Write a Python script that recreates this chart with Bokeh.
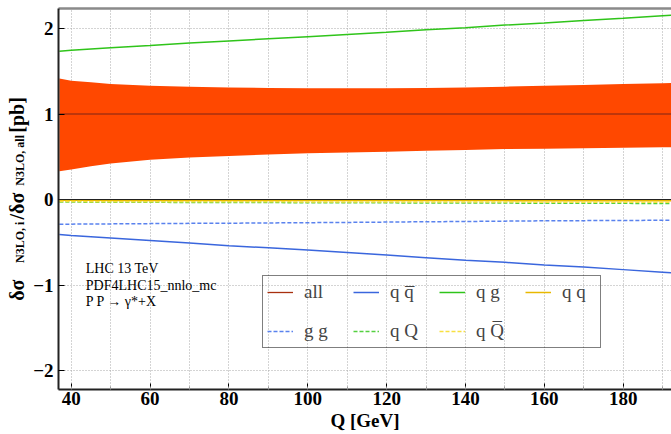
from bokeh.plotting import figure
from bokeh.models import (Range1d, SingleIntervalTicker, FixedTicker, LinearAxis, Legend,
                          LegendItem, Label, Span)
from bokeh.embed import file_html
from bokeh.resources import INLINE

# ---------------- data ----------------
Q = [37, 40, 45, 50, 60, 70, 80, 90, 100, 110, 120, 130, 140, 150, 160, 170, 180, 190, 195]
all_upper = [1.415, 1.39, 1.37, 1.35, 1.33, 1.32, 1.31, 1.305, 1.30, 1.30, 1.30,
             1.305, 1.31, 1.32, 1.33, 1.34, 1.35, 1.36, 1.365]
all_lower = [0.33, 0.35, 0.39, 0.42, 0.465, 0.49, 0.51, 0.525, 0.54, 0.55, 0.56,
             0.57, 0.58, 0.59, 0.595, 0.60, 0.605, 0.61, 0.61]
all_central = [1.0, 1.0, 1.0, 1.0, 1.0, 1.0, 1.0, 1.0, 1.0, 1.0, 1.0,
               1.0, 1.0, 1.0, 1.0, 1.0, 1.0, 1.0, 1.0]
qqbar = [-0.41, -0.42, -0.435, -0.45, -0.48, -0.51, -0.54, -0.565, -0.59, -0.62, -0.65,
         -0.68, -0.71, -0.735, -0.765, -0.79, -0.82, -0.85, -0.865]
qg = [1.735, 1.745, 1.76, 1.775, 1.80, 1.83, 1.855, 1.88, 1.905, 1.93, 1.955,
      1.985, 2.01, 2.04, 2.065, 2.095, 2.12, 2.15, 2.165]
qq = [-0.010, -0.010, -0.010, -0.011, -0.011, -0.011, -0.012, -0.012, -0.012, -0.012, -0.013,
      -0.013, -0.013, -0.013, -0.014, -0.014, -0.014, -0.014, -0.014]
gg = [-0.289, -0.288, -0.286, -0.285, -0.282, -0.279, -0.277, -0.274, -0.271, -0.268, -0.264,
      -0.260, -0.257, -0.253, -0.249, -0.247, -0.245, -0.243, -0.242]
qQ = [-0.030, -0.030, -0.031, -0.032, -0.033, -0.034, -0.035, -0.036, -0.037, -0.038, -0.039,
      -0.040, -0.041, -0.042, -0.043, -0.044, -0.045, -0.046, -0.047]
qQbar = [-0.024, -0.024, -0.025, -0.025, -0.026, -0.026, -0.027, -0.027, -0.028, -0.028, -0.029,
         -0.029, -0.030, -0.030, -0.031, -0.031, -0.032, -0.032, -0.033]

legend_labels = ["all", "q q\u0305", "q g", "q q", "g g", "q Q", "q Q\u0305"]
info_lines = ["LHC 13 TeV", "PDF4LHC15_nnlo_mc", "P P \u2192 \u03b3*+X"]
x_ticks_interval = 20
y_ticks_interval = 1
x_title = "Q [GeV]"
EM = "\u2003"
y_title_main = "\u03b4\u03c3" + EM * 3 + "/\u03b4\u03c3" + EM * 3 + "[pb]"
y_title_sub = "N3LO, i" + EM * 3 + "N3LO, all"

SERIF = "Liberation Serif"

p = figure(width=671, height=434, output_backend="svg", toolbar_location=None,
           x_range=Range1d(36.78, 192.25), y_range=Range1d(-2.222, 2.234),
           min_border_left=58, min_border_right=0, min_border_top=8,
           min_border_bottom=45, background_fill_color="white",
           border_fill_color="white")
p.outline_line_color = None

xa = p.below[0]
ya = p.left[0]

# axes
xa.ticker = SingleIntervalTicker(interval=x_ticks_interval, num_minor_ticks=2)
ya.ticker = SingleIntervalTicker(interval=y_ticks_interval, num_minor_ticks=0)
for ax in (xa, ya):
    ax.major_label_text_font = SERIF
    ax.major_label_text_font_style = "bold"
    ax.major_label_text_font_size = "19px"
    ax.major_label_text_color = "black"
    ax.axis_line_color = "#222222"
    ax.axis_line_width = 2
    ax.major_tick_in = 6
    ax.major_tick_out = 0
    ax.minor_tick_in = 3
    ax.minor_tick_out = 0
    ax.major_tick_line_color = "black"
    ax.minor_tick_line_color = "#999999"
    ax.axis_label_text_font = SERIF
    ax.axis_label_text_font_style = "bold"
    ax.axis_label_text_color = "black"
xa.major_label_standoff = 2
xa.axis_label = x_title
xa.axis_label_text_font_size = "19px"
xa.axis_label_standoff = 2
ya.major_label_standoff = 5
ya.major_label_overrides = {-1: "\u22121", -2: "\u22122"}
ya.axis_label = y_title_main
ya.axis_label_text_font_size = "20px"
ya.axis_label_standoff = 2

# subscript line of the y title (an extra, tick-less axis on the left)
ysub = LinearAxis(ticker=FixedTicker(ticks=[]), axis_line_color=None,
                  major_tick_in=0, major_tick_out=0, minor_tick_in=0, minor_tick_out=0,
                  major_label_standoff=0, major_label_text_font_size="0px",
                  axis_label=y_title_sub, axis_label_text_font=SERIF,
                  axis_label_text_font_style="bold", axis_label_text_font_size="12px",
                  axis_label_standoff=-23, axis_label_text_color="black")
p.add_layout(ysub, "left")

# top frame line
top = LinearAxis(ticker=FixedTicker(ticks=[]), major_label_text_font_size="0px",
                 major_tick_in=0, major_tick_out=0, minor_tick_in=0, minor_tick_out=0,
                 major_label_standoff=0, axis_line_color="#8a8a8a", axis_line_width=2.5)
p.add_layout(top, "above")

# grid
p.xgrid.ticker = SingleIntervalTicker(interval=10)
for g in (p.xgrid[0], p.ygrid[0]):
    g.grid_line_color = "#a8a8a8"
    g.grid_line_dash = "1 2"
    g.grid_line_width = 1

# zero line
p.add_layout(Span(location=0, dimension="width", line_color="#222222", line_width=1.2))

# band and lines
p.varea(x=Q, y1=all_lower, y2=all_upper, fill_color="#ff4800", fill_alpha=1.0)
r_all = p.line(Q, all_central, line_color="#a8300f", line_width=1.3)
r_qqbar = p.line(Q, qqbar, line_color="#3a66dd", line_width=1.5)
r_qg = p.line(Q, qg, line_color="#2fc41a", line_width=1.5)
r_qq = p.line(Q, qq, line_color="#e8b800", line_width=1.5)
r_gg = p.line(Q, gg, line_color="#5a82ee", line_width=1.5, line_dash="4 2")
r_qQ = p.line(Q, qQ, line_color="#55d040", line_width=1.5, line_dash="4 2")
r_qQbar = p.line(Q, qQbar, line_color="#f8e040", line_width=1.5, line_dash="4 2")

renderers = [r_all, r_qqbar, r_qg, r_qq, r_gg, r_qQ, r_qQbar]
legend = Legend(items=[LegendItem(label=l, renderers=[r]) for l, r in zip(legend_labels, renderers)],
                location=(204, 41), orientation="horizontal", ncols=4,
                label_text_font=SERIF, label_text_font_size="19px",
                glyph_width=26, glyph_height=24, label_height=24, label_width=34,
                label_standoff=11, spacing=15, padding=4, margin=0,
                border_line_color="black", border_line_width=1.5,
                background_fill_alpha=0.0)
p.add_layout(legend)

# info text
for i, t in enumerate(info_lines):
    p.add_layout(Label(x=43.7, y=-0.81 - 0.193 * i, text=t, text_font=SERIF,
                       text_font_size="14px", text_baseline="middle", text_color="black"))

open("out.html", "w").write(file_html(p, INLINE))
